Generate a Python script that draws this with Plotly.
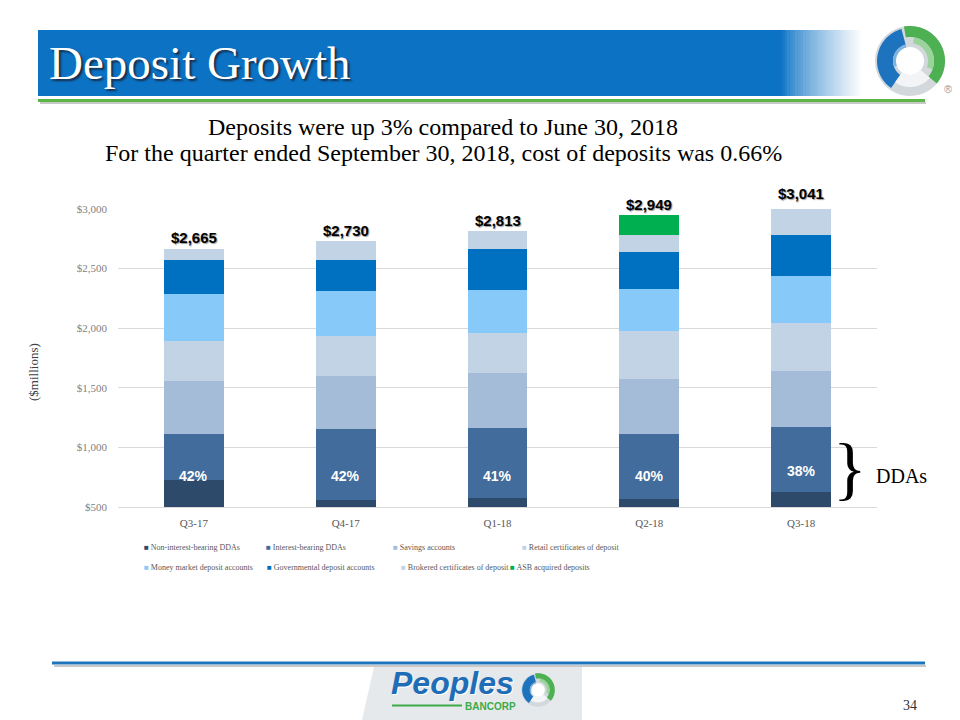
import numpy as np
import plotly.graph_objects as go

# ---------------- data ----------------
quarters = ["Q3-17", "Q4-17", "Q1-18", "Q2-18", "Q3-18"]
non_interest_ddas = [724, 556, 573, 564, 623]
interest_ddas = [386, 599, 587, 546, 546]
savings = [445, 442, 463, 462, 471]
retail_cds = [336, 336, 335, 403, 403]
money_market = [395, 378, 362, 353, 394]
governmental = [286, 261, 344, 311, 345]
brokered_cds = [93, 158, 149, 143, 259]
asb_acquired = [None, None, None, 167, None]
totals = ["$2,665", "$2,730", "$2,813", "$2,949", "$3,041"]
total_values = [2665, 2730, 2813, 2949, 3041]
dda_share = ["42%", "42%", "41%", "40%", "38%"]
y_ticks = [500, 1000, 1500, 2000, 2500, 3000]
y_tick_labels = ["$500", "$1,000", "$1,500", "$2,000", "$2,500", "$3,000"]
Y_MIN, Y_MAX = 500, 3000

series = [
    ("Non-interest-bearing DDAs", non_interest_ddas, "#2D4A6B"),
    ("Interest-bearing DDAs", interest_ddas, "#416C9B"),
    ("Savings accounts", savings, "#A4BCD8"),
    ("Retail certificates of deposit", retail_cds, "#C3D3E6"),
    ("Money market deposit accounts", money_market, "#87C9F9"),
    ("Governmental deposit accounts", governmental, "#0070C0"),
    ("Brokered certificates of deposit", brokered_cds, "#C3D3E6"),
    ("ASB acquired deposits", asb_acquired, "#00B050"),
]

# ---------------- geometry helpers (page pixels) ----------------
PAGE_W, PAGE_H = 960, 720
OFF = 8  # body margin of the html page
W, H = PAGE_W - OFF, PAGE_H - OFF
L, R, T, B = 118, 877, 209, 507


def px(x):
    return (x - L) / (R - L)


def py(y):
    return (B - y) / (B - T)


SERIF = "Liberation Serif"
SANS = "Liberation Sans"

fig = go.Figure()
for name, vals, col in series:
    fig.add_trace(go.Bar(x=quarters, y=vals, name=name, marker_color=col,
                         marker_line_width=0, showlegend=False))

shapes = []
annotations = []


def note(text, x, y, size, color, family=SERIF, xanchor="center", yanchor="middle", **kw):
    annotations.append(dict(text=text, x=px(x), y=py(y), xref="paper", yref="paper",
                            xanchor=xanchor, yanchor=yanchor, showarrow=False,
                            font=dict(family=family, size=size, color=color,
                                      **kw.pop("fontkw", {})), **kw))


def rect(x0, x1, y0, y1, color, layer="below"):
    shapes.append(dict(type="rect", xref="paper", yref="paper", x0=px(x0), x1=px(x1),
                       y0=py(y1), y1=py(y0), fillcolor=color, line_width=0, layer=layer))


def hline(x0, x1, y, color, width):
    shapes.append(dict(type="line", xref="paper", yref="paper", x0=px(x0), x1=px(x1),
                       y0=py(y), y1=py(y), line=dict(color=color, width=width)))


# header band with fade at right
rect(38, 782, 30, 96, "#0B72C4")
n = 30
for i in range(n):
    t = ((i + 0.5) / n) ** 0.75
    r = int(11 + (255 - 11) * t)
    g = int(114 + (255 - 114) * t)
    b = int(196 + (255 - 196) * t)
    rect(782 + 80 * i / n, 782 + 80 * (i + 1) / n + 0.5, 30, 96, f"rgb({r},{g},{b})")
# green rule + shadow
hline(40, 926, 103, "#C8C8C8", 2)
hline(38, 925, 100.5, "#5CB646", 3)
# bottom blue rule + shadow
hline(54, 926, 666, "#C8C8C8", 2)
hline(52, 925, 663, "#1C75BC", 3)


def ring_path(cx, cy, r_out, r_in, a0, a1):
    a = np.linspace(np.radians(a0), np.radians(a1), 48)
    pts = [(cx + r_out * np.cos(t), cy - r_out * np.sin(t)) for t in a]
    pts += [(cx + r_in * np.cos(t), cy - r_in * np.sin(t)) for t in a[::-1]]
    return "M " + " L ".join(f"{px(x):.5f},{py(y):.5f}" for x, y in pts) + " Z"


def add_logo(cx, cy, s):
    parts = [
        (35, 0, 0, 360, "#D3D8DD"),
        (35, 24, -40, 100, "#4DB052"),
        (24, 18, -20, 80, "#9AD49C"),
        (33, 17, 105, 235, "#1E73BE"),
        (17, 11, 105, 200, "#7FB3E0"),
        (26, 14, 235, 320, "#F2F4F6"),
        (14, 0, 0, 360, "#FFFFFF"),
    ]
    for ro, ri, a0, a1, col in parts:
        shapes.append(dict(type="path", xref="paper", yref="paper",
                           path=ring_path(cx, cy, ro * s, ri * s, a0, a1),
                           fillcolor=col, line_width=0))


add_logo(910, 61, 1.0)
note("®", 948, 89, 11, "#999999", family=SANS)

# footer logo background
shapes.append(dict(type="path", xref="paper", yref="paper",
                   path=f"M {px(362)},{py(720)} L {px(374)},{py(667)} L {px(582)},{py(667)} "
                        f"L {px(582)},{py(720)} Z",
                   fillcolor="#E6E9EC", line_width=0, layer="below"))
hline(392, 462, 705.5, "#3DAA48", 2)
add_logo(538, 690, 0.48)

# title + subtitles
note("Deposit Growth", 47, 63, 47, "white", xanchor="left",
     fontkw=dict(shadow="2px 2px 2px #1a2a44"))
note("Deposits were up 3% compared to June 30, 2018", 443, 127, 24, "black")
note("For the quarter ended September 30, 2018, cost of deposits was 0.66%", 443, 153, 24,
     "black")

# y-axis title
note("($millions)", 33, 372, 13, "#404040", textangle=-90)

# totals (placed above each stack; may lie above the axis top) and DDA shares
for q, tv, tl in zip(quarters, total_values, totals):
    annotations.append(dict(text=f"<b>{tl}</b>", x=q, y=(tv - Y_MIN) / (Y_MAX - Y_MIN),
                            xref="x", yref="paper", xanchor="center", yanchor="middle",
                            yshift=11, showarrow=False,
                            font=dict(family=SANS, size=15, color="black",
                                      shadow="1px 1px 1px #9a9a9a")))
for i, (q, s) in enumerate(zip(quarters, dda_share)):
    annotations.append(dict(text=f"<b>{s}</b>", x=q, y=800 if i == 4 else 760,
                            xref="x", yref="y", xanchor="center", yanchor="middle",
                            showarrow=False,
                            font=dict(family=SANS, size=14, color="white")))

# brace + DDAs
note("}", 850, 509, 70, "black", yanchor="bottom")
note("DDAs", 874, 476, 20, "black", xanchor="left")

# manual legend
leg_pos = [(142, 547), (264, 547), (391, 547), (520, 547),
           (142, 567), (265, 567), (399, 567), (508, 567)]
for (name, _, col), (lx, ly) in zip(series, leg_pos):
    note(f"<span style='color:{col}'>■</span> {name}", lx, ly, 8, "#595959",
         xanchor="left")

# footer texts
note("<b><i>Peoples</i></b>", 452, 683, 32, "#1F6DB6", family=SANS,
     fontkw=dict(shadow="1px 1px 0px #ffffff"))
note("<b>BANCORP</b>", 490, 706, 10, "#3DAA48", family=SANS)
note("34", 910, 705, 14, "#333333")

fig.update_layout(
    width=W, height=H, barmode="stack", bargap=0.605,
    margin=dict(l=L - OFF, r=PAGE_W - R, t=T - OFF, b=PAGE_H - B),
    paper_bgcolor="white", plot_bgcolor="white",
    shapes=shapes, annotations=annotations, showlegend=False,
    xaxis=dict(showline=True, linecolor="#D9D9D9", linewidth=1, ticks="",
               tickfont=dict(family=SERIF, size=11, color="#595959"),
               ticklabelstandoff=6),
    yaxis=dict(range=[Y_MIN, Y_MAX], tickvals=y_ticks, ticktext=y_tick_labels,
               showgrid=True, gridcolor="#D9D9D9", gridwidth=1, zeroline=False,
               tickfont=dict(family=SERIF, size=11, color="#7F7F7F"),
               ticklabelstandoff=10),
)

fig.write_html("out.html")
